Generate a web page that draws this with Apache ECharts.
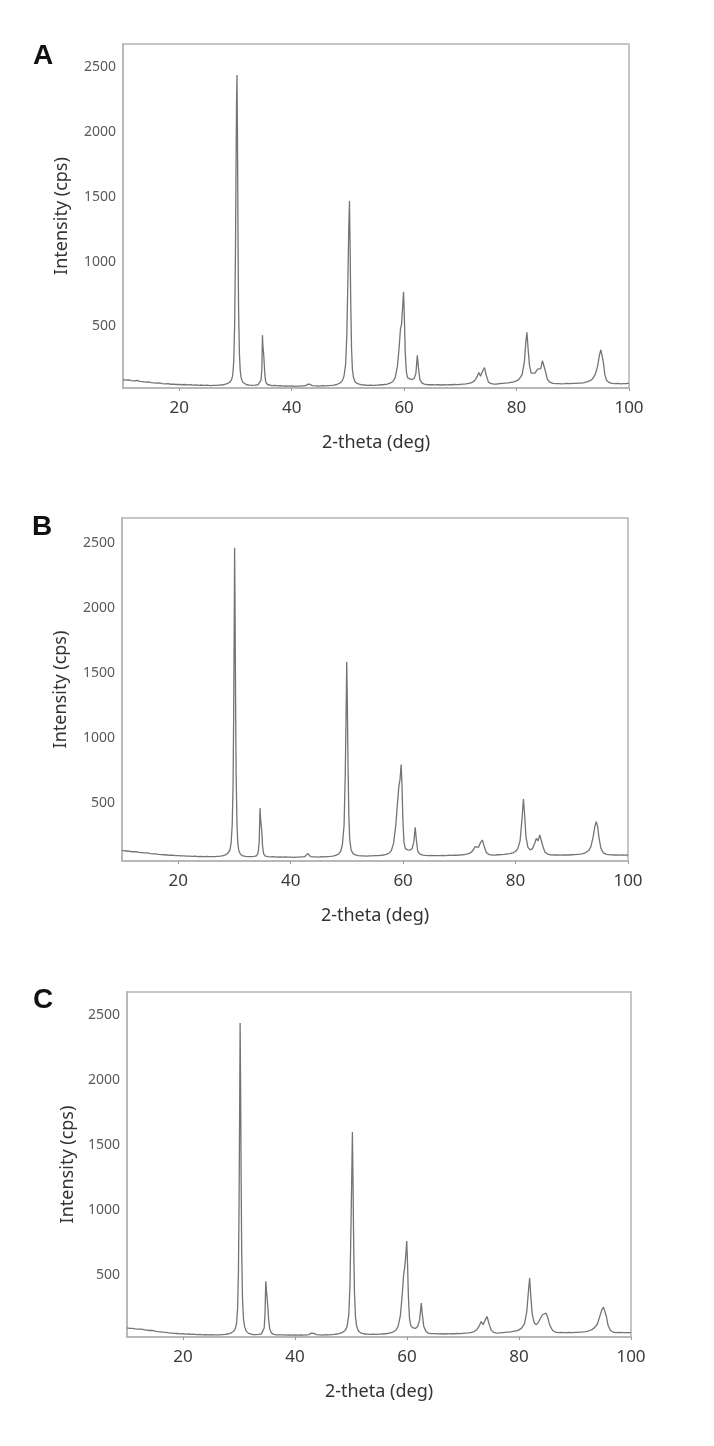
<!DOCTYPE html>
<html>
<head>
<meta charset="utf-8">
<script src="https://cdn.jsdelivr.net/npm/echarts@6/dist/echarts.min.js"></script>
<style>
html,body{margin:0;padding:0;background:#fff;}
#chart{width:714px;height:1446px;}
</style>
</head>
<body>
<div id="chart"></div>
<script>
// ---- data (2-theta in deg, intensity in cps) ----
const panelLabels = ['A', 'B', 'C'];
const xTickValues = [20, 40, 60, 80, 100];
const yTickValues = [500, 1000, 1500, 2000, 2500];
const xTitle = '2-theta (deg)';
const yTitle = 'Intensity (cps)';

const patternA = [[10,90],[10.5,86],[11,88],[11.5,82],[12,80],[12.5,83],[13,76],[13.5,74],[14,71],[14.5,73],[15,66],[15.5,64],[16,62],[16.5,65],[17,59],[17.5,57],[18,58],[18.5,54],[19,55],[19.5,52],[20,53],[20.5,50],[21,52],[21.5,49],[22,50],[22.5,47],[23,49],[23.5,46],[24,48],[24.5,45],[25,47],[25.5,44],[26,46],[26.5,45],[27,47],[27.5,48],[28,52],[28.5,58],[29,70],[29.3,88],[29.5,120],[29.7,230],[29.85,500],[30,1050],[30.1,1700],[30.2,2250],[30.27,2440],[30.35,2050],[30.45,1250],[30.55,650],[30.7,300],[30.85,160],[31,105],[31.3,70],[31.6,56],[32,50],[32.5,47],[33,45],[33.5,47],[34,50],[34.3,58],[34.55,85],[34.7,170],[34.8,433],[34.9,340],[35,300],[35.1,230],[35.25,120],[35.4,70],[35.7,52],[36,47],[36.5,44],[37,45],[37.5,42],[38,43],[38.5,40],[39,42],[39.5,40],[40,41],[40.5,38],[41,40],[41.5,39],[42,41],[42.5,43],[42.9,55],[43.1,66],[43.3,52],[43.7,43],[44,41],[44.5,42],[45,40],[45.5,43],[46,42],[46.5,44],[47,45],[47.5,48],[48,52],[48.5,60],[49,80],[49.3,115],[49.6,210],[49.8,420],[50,850],[50.15,1250],[50.28,1469],[50.4,1100],[50.5,700],[50.65,330],[50.8,170],[51,105],[51.3,72],[51.7,58],[52,52],[52.5,49],[53,48],[53.5,46],[54,47],[54.5,45],[55,47],[55.5,48],[56,50],[56.5,52],[57,55],[57.5,62],[58,75],[58.4,105],[58.8,190],[59.1,330],[59.35,480],[59.55,520],[59.75,660],[59.9,768],[60.05,560],[60.2,300],[60.4,150],[60.6,105],[61,95],[61.4,90],[61.8,100],[62.1,140],[62.35,278],[62.55,180],[62.8,90],[63.2,62],[63.6,55],[64,52],[64.5,50],[65,51],[65.5,49],[66,50],[66.5,48],[67,50],[67.5,49],[68,51],[68.5,50],[69,52],[69.5,51],[70,53],[70.5,55],[71,57],[71.5,60],[72,66],[72.5,80],[72.9,105],[73.3,144],[73.6,115],[73.9,150],[74.3,183],[74.6,125],[75,70],[75.5,58],[76,55],[76.5,56],[77,58],[77.5,60],[78,62],[78.5,64],[79,68],[79.5,72],[80,80],[80.5,95],[81,130],[81.4,230],[81.65,380],[81.85,454],[82.05,330],[82.3,200],[82.6,140],[82.9,130],[83.3,140],[83.7,170],[84,183],[84.3,175],[84.6,235],[84.85,247],[85.1,160],[85.5,90],[86,68],[86.5,60],[87,58],[87.5,59],[88,57],[88.5,58],[89,60],[89.5,59],[90,61],[90.5,60],[91,62],[91.5,63],[92,66],[92.5,72],[93,80],[93.5,95],[94,130],[94.4,190],[94.75,280],[95,320],[95.2,305],[95.45,220],[95.7,130],[96,85],[96.5,66],[97,60],[97.5,58],[98,60],[98.5,57],[99,59],[99.5,58],[100,62]];

const patternB = [[10,136],[10.5,132],[11,133],[11.5,128],[12,126],[12.5,127],[13,121],[13.5,119],[14,117],[14.5,118],[15,112],[15.5,110],[16,109],[16.5,106],[17,104],[17.5,103],[18,101],[18.5,99],[19,100],[19.5,96],[20,97],[20.5,94],[21,95],[21.5,92],[22,93],[22.5,90],[23,92],[23.5,89],[24,91],[24.5,88],[25,90],[25.5,88],[26,89],[26.5,88],[27,90],[27.5,92],[28,96],[28.5,104],[28.9,118],[29.2,140],[29.4,190],[29.6,330],[29.75,620],[29.85,1100],[29.95,1800],[30.03,2461],[30.1,2050],[30.2,1300],[30.3,720],[30.45,340],[30.6,190],[30.8,130],[31.1,105],[31.5,94],[32,90],[32.5,88],[33,89],[33.5,90],[33.9,95],[34.2,115],[34.4,200],[34.55,461],[34.65,380],[34.75,330],[34.85,290],[35,170],[35.2,110],[35.5,92],[36,88],[36.5,87],[37,88],[37.5,85],[38,86],[38.5,84],[39,86],[39.5,84],[40,85],[40.5,83],[41,85],[41.5,84],[42,86],[42.5,88],[42.8,100],[43,112],[43.2,98],[43.6,88],[44,86],[44.5,87],[45,85],[45.5,88],[46,87],[46.5,89],[47,90],[47.5,93],[48,98],[48.5,108],[48.9,130],[49.2,180],[49.5,330],[49.7,700],[49.85,1150],[49.97,1585],[50.07,1300],[50.2,800],[50.35,400],[50.5,220],[50.75,140],[51.1,112],[51.5,102],[52,97],[52.5,95],[53,94],[53.5,93],[54,94],[54.5,95],[55,96],[55.5,97],[56,99],[56.5,101],[57,106],[57.5,115],[57.9,135],[58.3,190],[58.7,330],[59,500],[59.25,630],[59.45,680],[59.65,796],[59.8,640],[59.95,380],[60.15,200],[60.4,150],[60.8,140],[61.2,138],[61.6,150],[61.9,200],[62.15,314],[62.35,220],[62.6,130],[63,108],[63.5,100],[64,98],[64.5,97],[65,98],[65.5,96],[66,97],[66.5,96],[67,98],[67.5,97],[68,99],[68.5,98],[69,100],[69.5,99],[70,101],[70.5,102],[71,105],[71.5,110],[72,118],[72.4,135],[72.8,165],[73.1,178],[73.4,160],[73.8,200],[74.1,216],[74.4,170],[74.8,120],[75.3,104],[76,100],[76.5,101],[77,103],[77.5,104],[78,106],[78.5,109],[79,112],[79.5,118],[80,128],[80.4,150],[80.8,210],[81.15,380],[81.4,531],[81.6,420],[81.85,240],[82.2,160],[82.6,140],[83,150],[83.4,190],[83.7,229],[84,210],[84.3,255],[84.55,245],[84.85,170],[85.2,125],[85.7,108],[86.2,103],[87,101],[87.5,102],[88,100],[88.5,101],[89,102],[89.5,101],[90,103],[90.5,104],[91,106],[91.5,108],[92,112],[92.5,120],[93,135],[93.4,165],[93.8,240],[94.1,320],[94.35,358],[94.6,320],[94.85,230],[95.2,150],[95.6,118],[96.2,106],[97,102],[97.5,101],[98,102],[98.5,100],[99,101],[99.5,100],[100,101]];

const patternC = [[10,90],[10.5,86],[11,87],[11.5,83],[12,80],[12.5,81],[13,76],[13.5,73],[14,70],[14.5,71],[15,66],[15.5,62],[16,60],[16.5,57],[17,55],[17.5,52],[18,50],[18.5,48],[19,47],[19.5,44],[20,45],[20.5,42],[21,43],[21.5,40],[22,41],[22.5,38],[23,40],[23.5,37],[24,38],[24.5,36],[25,38],[25.5,36],[26,37],[26.5,36],[27,38],[27.5,40],[28,43],[28.5,50],[29,62],[29.3,80],[29.55,120],[29.75,240],[29.9,520],[30.02,1100],[30.12,1800],[30.2,2436],[30.28,2000],[30.38,1250],[30.48,680],[30.62,320],[30.8,160],[31,100],[31.3,65],[31.7,48],[32,42],[32.5,39],[33,38],[33.5,40],[34,44],[34.3,55],[34.5,90],[34.65,200],[34.78,448],[34.9,380],[35.02,320],[35.15,250],[35.3,150],[35.5,80],[35.8,50],[36.2,40],[36.7,37],[37,38],[37.5,36],[38,37],[38.5,35],[39,37],[39.5,35],[40,36],[40.5,34],[41,36],[41.5,35],[42,37],[42.5,39],[42.9,50],[43.15,62],[43.4,48],[43.8,38],[44,36],[44.5,37],[45,35],[45.5,38],[46,37],[46.5,39],[47,40],[47.5,43],[48,48],[48.5,56],[49,72],[49.3,100],[49.6,190],[49.82,420],[50,880],[50.15,1300],[50.25,1598],[50.35,1250],[50.47,760],[50.62,360],[50.8,175],[51,105],[51.3,68],[51.7,52],[52,46],[52.5,43],[53,42],[53.5,40],[54,41],[54.5,40],[55,42],[55.5,43],[56,45],[56.5,47],[57,51],[57.5,58],[58,72],[58.4,100],[58.8,180],[59.1,320],[59.4,500],[59.6,560],[59.8,660],[59.95,758],[60.1,580],[60.25,330],[60.45,160],[60.7,105],[61.1,90],[61.5,86],[61.9,100],[62.25,150],[62.55,281],[62.75,190],[63,100],[63.4,62],[63.8,50],[64.2,46],[64.5,45],[65,46],[65.5,44],[66,45],[66.5,43],[67,45],[67.5,44],[68,46],[68.5,45],[69,47],[69.5,46],[70,48],[70.5,50],[71,52],[71.5,56],[72,62],[72.5,78],[72.9,105],[73.25,139],[73.6,115],[73.95,150],[74.3,178],[74.6,130],[75,75],[75.5,55],[76,50],[76.5,51],[77,53],[77.5,55],[78,57],[78.5,59],[79,63],[79.5,67],[80,75],[80.5,90],[81,125],[81.4,220],[81.7,380],[81.9,474],[82.1,340],[82.35,200],[82.7,130],[83.1,115],[83.5,135],[83.9,170],[84.2,191],[84.5,182],[84.8,204],[85.1,175],[85.5,110],[86,70],[86.5,58],[87,54],[87.5,55],[88,53],[88.5,54],[89,55],[89.5,54],[90,56],[90.5,55],[91,57],[91.5,59],[92,62],[92.5,68],[93,76],[93.5,92],[94,120],[94.4,175],[94.8,230],[95.1,250],[95.35,240],[95.6,180],[95.9,110],[96.3,72],[96.8,58],[97.3,54],[98,55],[98.5,53],[99,54],[99.5,53],[100,54]];

const patterns = [patternA, patternB, patternC];
const xRange = [10, 100];
const yRanges = [[25, 2680], [55, 2690], [20, 2675]];

// ---- layout (pixels) ----
const grids = [
  {left: 123, top: 44, width: 506, height: 344},
  {left: 122, top: 518, width: 506, height: 343},
  {left: 127, top: 992, width: 504, height: 345}
];
const yNameGaps = [52, 52, 46];
const letterPos = [[43, 56], [42, 527], [43, 1000]];

const FONT = '"Noto Sans", "Open Sans", sans-serif';
const frameColor = '#b4b4b4';

const chart = echarts.init(document.getElementById('chart'), null, {renderer: 'canvas'});

const option = {
  animation: false,
  backgroundColor: '#ffffff',
  grid: grids.map(g => Object.assign({
    show: true, borderColor: frameColor, borderWidth: 1.5, backgroundColor: 'transparent',
    containLabel: false
  }, g)),
  xAxis: grids.map((g, i) => ({
    type: 'value', gridIndex: i, min: xRange[0], max: xRange[1],
    name: xTitle, nameLocation: 'middle', nameGap: 46,
    nameTextStyle: {fontFamily: FONT, fontSize: 18, color: '#333'},
    axisLine: {show: true, lineStyle: {color: frameColor, width: 1.5}},
    axisTick: {show: true, length: 3, customValues: xTickValues, lineStyle: {color: '#999'}},
    axisLabel: {customValues: xTickValues, fontFamily: FONT, fontSize: 17, color: '#3a3a3a', margin: 12,
                formatter: v => String(v)},
    splitLine: {show: false}
  })),
  yAxis: grids.map((g, i) => ({
    type: 'value', gridIndex: i, min: yRanges[i][0], max: yRanges[i][1],
    name: yTitle, nameLocation: 'middle', nameGap: yNameGaps[i],
    nameTextStyle: {fontFamily: FONT, fontSize: 18, color: '#333'},
    axisLine: {show: true, lineStyle: {color: frameColor, width: 1.5}},
    axisTick: {show: false},
    axisLabel: {customValues: yTickValues, fontFamily: FONT, fontSize: 14, color: '#5a5a5a', margin: 7,
                formatter: v => String(v)},
    splitLine: {show: false}
  })),
  series: patterns.map((p, i) => ({
    type: 'line', xAxisIndex: i, yAxisIndex: i, data: p,
    showSymbol: false, symbol: 'none', smooth: false,
    lineStyle: {color: '#747474', width: 1.3},
    silent: true
  })),
  graphic: panelLabels.map((t, i) => ({
    type: 'text', x: letterPos[i][0], y: letterPos[i][1],
    style: {text: t, font: 'bold 28px "Liberation Sans", Arial, sans-serif', fill: '#111',
            textAlign: 'center', textVerticalAlign: 'middle'}
  }))
};
chart.setOption(option);
</script>
</body>
</html>
